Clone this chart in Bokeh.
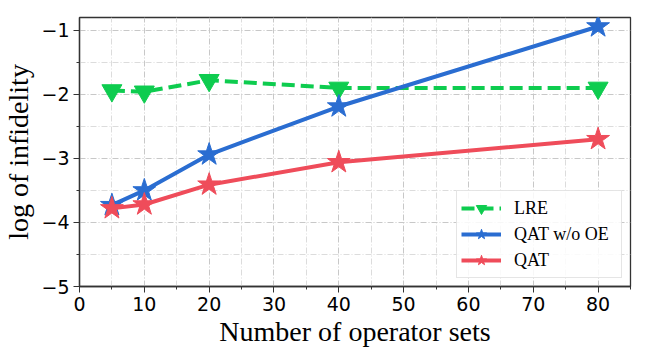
from bokeh.plotting import figure
from bokeh.models import Range1d, Legend, LegendItem, FixedTicker, CustomJSTickFormatter
from bokeh.embed import file_html
from bokeh.resources import INLINE

x_vals = [5, 10, 20, 40, 80]
lre = [-1.94, -1.96, -1.78, -1.90, -1.90]
qat_wo_oe = [-3.73, -3.50, -2.94, -2.19, -0.94]
qat = [-3.78, -3.72, -3.41, -3.06, -2.70]

x_ticks = [0, 10, 20, 30, 40, 50, 60, 70, 80]
y_ticks = [-5, -4, -3, -2, -1]

green = "#0ecc4f"
blue = "#2a6dd1"
red = "#ef4c5a"

p = figure(width=656, height=350, output_backend="svg", toolbar_location=None,
           x_range=Range1d(0, 85), y_range=Range1d(-5, -0.8),
           min_border_left=79, min_border_right=26, min_border_top=17, min_border_bottom=64)

p.outline_line_color = "#333333"
p.outline_line_width = 1.3

for ax in (p.xaxis[0], p.yaxis[0]):
    ax.axis_line_color = "#333333"
    ax.axis_line_width = 1.3
    ax.major_tick_line_color = "#333333"
    ax.minor_tick_line_color = "#333333"
    ax.major_tick_out = 6
    ax.major_tick_in = 0
    ax.minor_tick_out = 3
    ax.minor_tick_in = 0
    ax.major_label_text_font = "DejaVu Sans"
    ax.major_label_text_font_size = "19px"
    ax.major_label_text_color = "black"
    ax.axis_label_text_font = "Liberation Serif"
    ax.axis_label_text_font_size = "28px"
    ax.axis_label_text_font_style = "normal"
    ax.axis_label_text_color = "black"
    ax.formatter = CustomJSTickFormatter(code="return tick.toString().replace('-', '\u2212');")

p.xaxis.ticker = FixedTicker(ticks=x_ticks, minor_ticks=[v + 5 for v in x_ticks])
p.yaxis.ticker = FixedTicker(ticks=y_ticks, minor_ticks=[v + 0.5 for v in y_ticks])
p.xaxis.axis_label = "Number of operator sets"
p.yaxis.axis_label = "log of infidelity"
p.xaxis.major_label_standoff = 4
p.yaxis.major_label_standoff = 4
p.xaxis.axis_label_standoff = 2
p.yaxis.axis_label_standoff = 4

for g in (p.xgrid[0], p.ygrid[0]):
    g.grid_line_color = "#c8c8c8"
    g.grid_line_dash = "6 2 1 2"
    g.grid_line_width = 1
    g.minor_grid_line_color = "#dcdcdc"
    g.minor_grid_line_dash = "6 2 1 2"
    g.minor_grid_line_width = 1

l1 = p.line(x_vals, lre, line_color=green, line_width=4, line_dash="13 6")
m1 = p.scatter(x_vals, lre, marker="inverted_triangle", size=20, fill_color=green, line_color=green)
l2 = p.line(x_vals, qat_wo_oe, line_color=blue, line_width=4)
m2 = p.scatter(x_vals, qat_wo_oe, marker="star", size=24, fill_color=blue, line_color=blue)
l3 = p.line(x_vals, qat, line_color=red, line_width=4)
m3 = p.scatter(x_vals, qat, marker="star", size=24, fill_color=red, line_color=red)

legend = Legend(items=[
    LegendItem(label="LRE", renderers=[l1, m1]),
    LegendItem(label="QAT w/o OE", renderers=[l2, m2]),
    LegendItem(label="QAT", renderers=[l3, m3]),
], location="bottom_right")
legend.label_text_font = "Liberation Serif"
legend.label_text_font_size = "18px"
legend.label_text_color = "black"
legend.glyph_width = 40
legend.glyph_height = 26
legend.label_height = 26
legend.label_width = 103
legend.label_standoff = 13
legend.spacing = 0
legend.padding = 4
legend.margin = 8
legend.border_line_color = "#cccccc"
legend.background_fill_alpha = 0.85
p.add_layout(legend)

open("out.html", "w").write(file_html(p, INLINE))
